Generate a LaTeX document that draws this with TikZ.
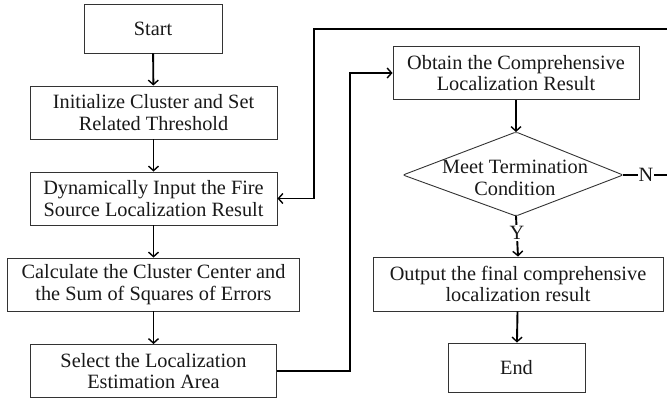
\documentclass[tikz,border=0pt]{standalone}
\usepackage{fontspec}
\setmainfont{Liberation Serif}
\usetikzlibrary{arrows.meta}
\begin{document}
\begin{tikzpicture}[x=1pt,y=-1pt,
  box/.style={draw=black!80, line width=0.9pt, fill=white, inner sep=0pt, align=center,
    font=\fontsize{20.3}{21.5}\selectfont, text=black!90},
  lbl/.style={fill=white, inner sep=1pt, font=\fontsize{20.3}{21.5}\selectfont, text=black!90},
  conn/.style={line width=1.9pt, -{Straight Barb[length=4.5pt,width=10pt,line width=1.4pt]}},
  wire/.style={line width=1.9pt}]
\useasboundingbox (0,0) rectangle (667,398);
\node[box, minimum width=138pt, minimum height=49pt] (start) at (153,28.5) {Start};
\node[box, minimum width=247pt, minimum height=53pt] (init) at (153.5,112.5) {Initialize Cluster and Set\\Related Threshold};
\node[box, minimum width=247pt, minimum height=53pt] (dyn) at (153.5,198.5) {Dynamically Input the Fire\\Source Localization Result};
\node[box, minimum width=292pt, minimum height=53pt] (calc) at (153.5,284.5) {Calculate the Cluster Center and\\the Sum of Squares of Errors};
\node[box, minimum width=246pt, minimum height=53pt] (sel) at (153.5,371) {Select the Localization\\Estimation Area};
\node[box, minimum width=246pt, minimum height=53pt] (obt) at (516,73) {Obtain the Comprehensive\\Localization Result};
\coordinate (dt) at (516,132);
\coordinate (dr) at (623,175);
\coordinate (db) at (516,216);
\coordinate (dl) at (403,175);
\draw[black!80, line width=0.9pt, rounded corners=2pt] (dt) -- (dr) -- (db) -- (dl) -- cycle;
\node[align=center, inner sep=0pt, font=\fontsize{20.3}{21.5}\selectfont, text=black!90] (cond) at (515,178) {Meet Termination\\Condition};
\node[box, minimum width=290pt, minimum height=54pt] (out) at (518,284) {Output the final comprehensive\\localization result};
\node[box, minimum width=137pt, minimum height=49pt] (end) at (516.5,367.5) {End};
\coordinate (r1) at (670,175);
\coordinate (r2) at (670,29);
\coordinate (l1) at (314,29);
\coordinate (s1) at (350,371);
\coordinate (s2) at (350,73);
\draw[conn] (start) -- (init);
\draw[conn] (init) -- (dyn);
\draw[conn] (dyn) -- (calc);
\draw[conn] (calc) -- (sel);
\draw[conn] (sel.east) -- (s1) -- (s2) -- (obt.west);
\draw[conn] (obt.south) -- (dt);
\draw[conn] (db) -- node[lbl, pos=0.42] (y) {Y} (out.north);
\draw[conn] (out) -- (end);
\draw[conn] (dr) -- node[lbl, pos=0.5, xshift=-0.5pt] (n) {N} (r1) -- (r2) -- (l1) |- (dyn.east);
\end{tikzpicture}
\end{document}
